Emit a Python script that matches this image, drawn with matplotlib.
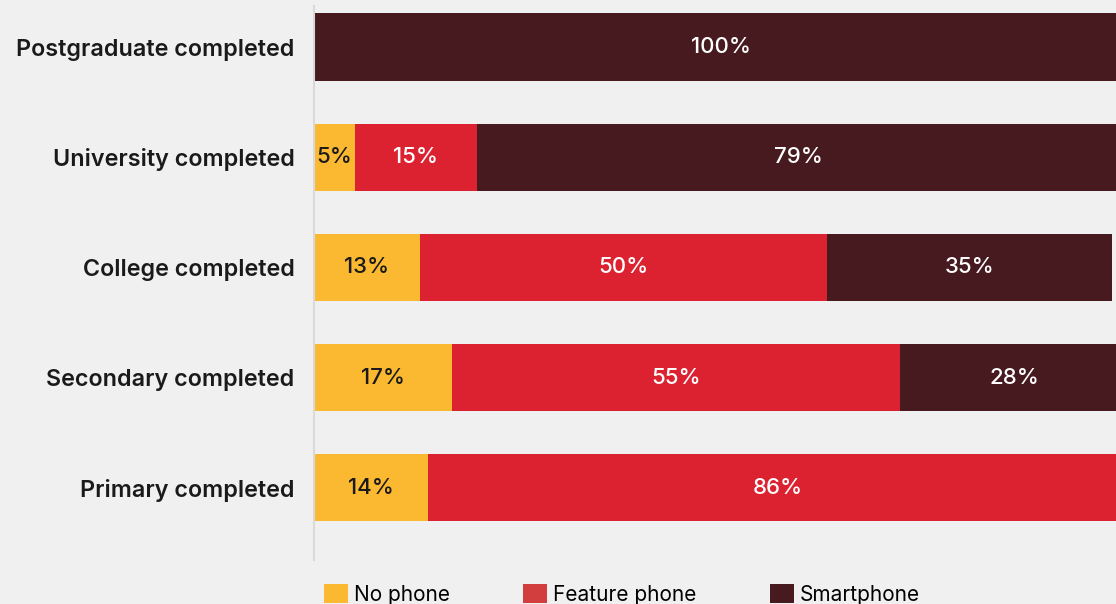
import matplotlib.pyplot as plt
from matplotlib.patches import Patch
import numpy as np

# datos por nivel educativo (de arriba hacia abajo)
levels = ["Postgraduate completed", "University completed", "College completed",
          "Secondary completed", "Primary completed"]
no_phone = [0, 5, 13, 17, 14]
feature_phone = [0, 15, 50, 55, 86]
smartphone = [100, 79, 35, 28, 0]

series = ["No phone", "Feature phone", "Smartphone"]
colors = ["#FBB931", "#DC2230", "#471A1F"]
legend_colors = ["#FBB931", "#D23E3E", "#471A1F"]
text_colors = ["#1A1A1A", "white", "white"]

bg = "#F0F0F0"
plt.rcParams['font.family'] = ['Inter', 'DejaVu Sans']

fig = plt.figure(figsize=(11.16, 6.04), dpi=100, facecolor=bg)
ax = fig.add_axes([314 / 1116, 1 - 560 / 604, 1 - 314 / 1116, 554 / 604])
ax.set_facecolor(bg)

y = np.arange(len(levels))
left = np.zeros(len(levels))
for vals, col, tcol in zip([no_phone, feature_phone, smartphone], colors, text_colors):
    vals = np.array(vals, dtype=float)
    ax.barh(y, vals, left=left, height=0.61, color=col, edgecolor='none')
    for yi, l, v in zip(y, left, vals):
        if v > 0:
            ax.text(l + v / 2, yi, f"{int(v)}%", ha='center', va='center',
                    color=tcol, fontsize=16, fontweight='medium')
    left += vals

ax.set_xlim(0, 98.5)
ax.set_ylim(4 + 72 / 110, -41 / 110)
ax.set_yticks(y)
ax.set_yticklabels(levels, fontsize=16.8, fontweight='semibold', color='#1A1A1A')
ax.tick_params(axis='y', length=0, pad=14)
ax.set_xticks([])
for s in ['top', 'right', 'bottom']:
    ax.spines[s].set_visible(False)
ax.spines['left'].set_color('#D9D9D9')
ax.spines['left'].set_linewidth(1.5)

# leyenda abajo
handles = [Patch(facecolor=c, edgecolor='none') for c in legend_colors]
fig.legend(handles, series, loc='upper left', bbox_to_anchor=(324 / 1116, 1 - 584 / 604),
           ncol=3, frameon=False, fontsize=15, handlelength=1.15, handleheight=1.05,
           handletextpad=0.3, columnspacing=3.5, borderaxespad=0, borderpad=0)

fig.savefig("out.png", dpi=100, facecolor=bg)
